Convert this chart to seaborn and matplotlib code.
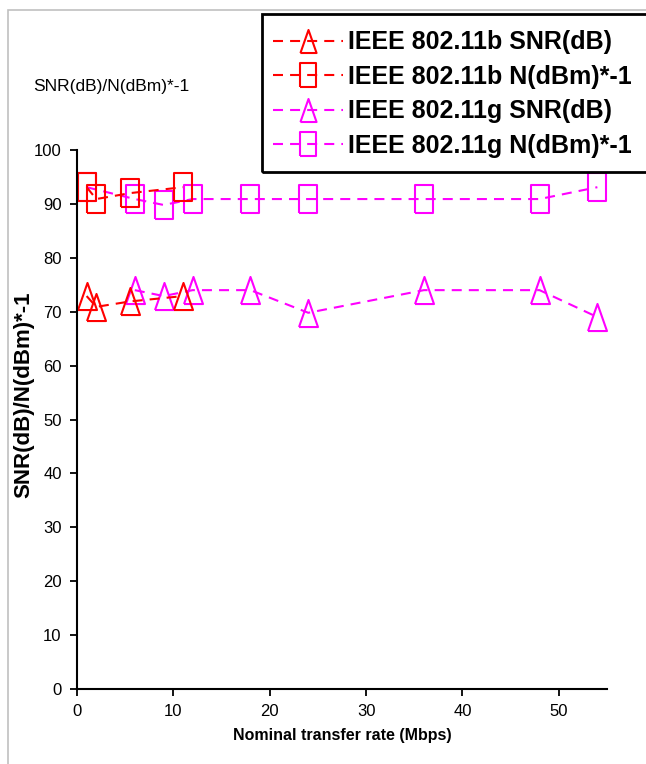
import matplotlib
matplotlib.use("Agg")
import matplotlib.pyplot as plt
import matplotlib.patches as mpatches
import seaborn as sns
import pandas as pd

# data
rate_b = [1, 2, 5.5, 11]
snr_b = [72.9, 70.9, 71.9, 72.9]
noise_b = [93.1, 90.9, 92.0, 93.1]

rate_g_snr = [6, 9, 12, 18, 24, 36, 48, 54]
snr_g = [74.0, 72.9, 74.0, 74.0, 69.8, 74.0, 74.0, 69.0]
rate_g_noise = [1, 6, 9, 12, 18, 24, 36, 48, 54]
noise_g = [93.1, 90.9, 89.8, 90.9, 90.9, 90.9, 90.9, 90.9, 93.1]

labels = ["IEEE 802.11b SNR(dB)", "IEEE 802.11b N(dBm)*-1",
          "IEEE 802.11g SNR(dB)", "IEEE 802.11g N(dBm)*-1"]

sns.set_style("white")
plt.rcParams["font.family"] = ["Liberation Sans", "DejaVu Sans"]
plt.rcParams["text.color"] = "black"
plt.rcParams["axes.labelcolor"] = "black"
plt.rcParams["xtick.color"] = "black"
plt.rcParams["ytick.color"] = "black"

fig = plt.figure(figsize=(6.46, 7.64), dpi=100)
ax = fig.add_axes([77 / 646, 1 - 689 / 764, (607 - 77) / 646, (689 - 150) / 764])

# tall markers (source image is stretched vertically)
tri = [(-0.7, -1), (0.7, -1), (0, 1), (-0.7, -1)]
rect = [(-0.7, -1), (0.7, -1), (0.7, 1), (-0.7, 1), (-0.7, -1)]

red = "#ff0000"
mag = "#ff00ff"
series = [
    (rate_b, snr_b, red, tri),
    (rate_b, noise_b, red, rect),
    (rate_g_snr, snr_g, mag, tri),
    (rate_g_noise, noise_g, mag, rect),
]
handles = {}
for i in [2, 3, 0, 1]:
    x, y, c, m = series[i]
    df = pd.DataFrame({"x": x, "y": y})
    sns.lineplot(data=df, x="x", y="y", ax=ax, color=c, lw=1.5,
                 linestyle=(0, (4.8, 3.4)), marker=m, markersize=19.5,
                 markerfacecolor="none", markeredgecolor=c, markeredgewidth=1.5,
                 legend=False, sort=False)
    handles[i] = ax.lines[-1]

ax.set_xlim(0, 55)
ax.set_ylim(0, 100)
ax.set_xticks(range(0, 51, 10))
ax.set_yticks(range(0, 101, 10))
for s in ["top", "right"]:
    ax.spines[s].set_visible(False)
for s in ["left", "bottom"]:
    ax.spines[s].set_color("black")
    ax.spines[s].set_linewidth(1.5)
ax.tick_params(axis="both", direction="out", length=5, width=1.3, pad=6,
               labelsize=12, color="black", labelcolor="black", left=True, bottom=True)
ax.set_xlabel("Nominal transfer rate (Mbps)", fontsize=11.5, fontweight="bold", labelpad=6)
ax.set_ylabel("SNR(dB)/N(dBm)*-1", fontsize=16, fontweight="bold")
ax.yaxis.set_label_coords(-0.08, 0.545)

fig.text(33 / 646, 1 - 87 / 764, "SNR(dB)/N(dBm)*-1", fontsize=12.5, va="center", ha="left")

# legend box runs past the right edge in the original
fig.patches.append(mpatches.Rectangle((262 / 646, 1 - 172 / 764), 0.7, (172 - 14) / 764,
                                      transform=fig.transFigure, fill=False,
                                      edgecolor="black", lw=2, zorder=5))
leg = fig.legend([handles[i] for i in range(4)], labels,
                 loc="upper left", bbox_to_anchor=(262 / 646, 1 - 19 / 764),
                 prop={"weight": "bold", "size": 18}, markerscale=0.85,
                 frameon=False, handlelength=2.8, handletextpad=0.2,
                 labelspacing=0.42, borderpad=0.45, borderaxespad=0)
leg.set_zorder(6)

fig.patches.append(mpatches.Rectangle((8 / 646, -0.1), 1.2, 1 - 10 / 764 + 0.1,
                                      transform=fig.transFigure, fill=False,
                                      edgecolor="#c0c0c0", lw=1.2))

fig.savefig("out.png", dpi=100)
